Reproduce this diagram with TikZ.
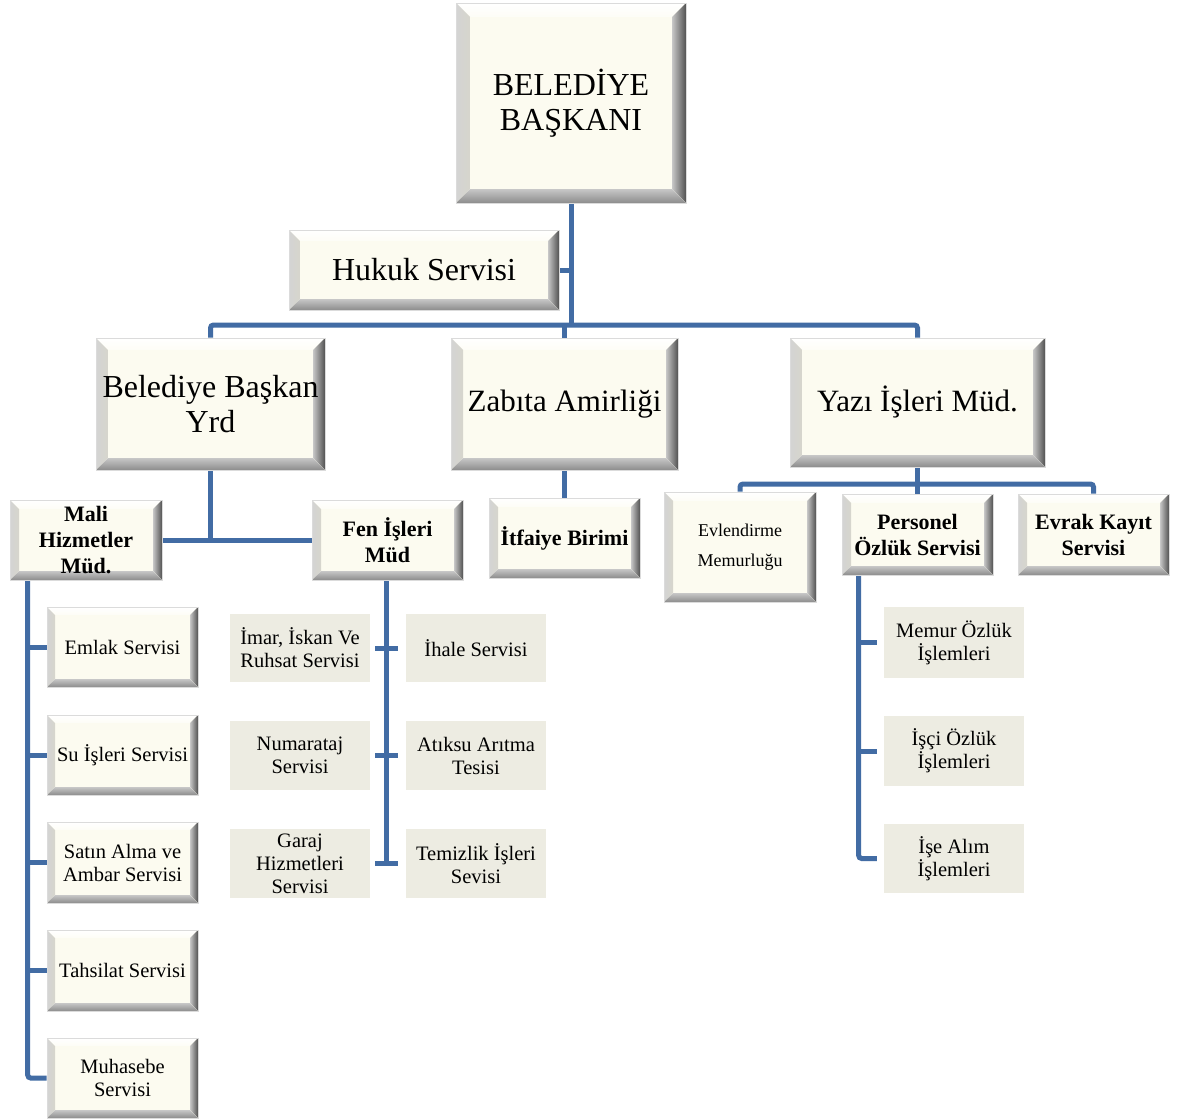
\documentclass[tikz,border=0pt]{standalone}
\usepackage{fontspec}
\setmainfont{Liberation Serif}
\usetikzlibrary{calc}
\definecolor{cream}{RGB}{252,251,240}
\definecolor{tan}{RGB}{237,236,226}
\definecolor{conn}{RGB}{66,108,164}
\pgfdeclarelayer{bg}
\pgfsetlayers{bg,main}
\newcommand\bevelpic[1]{%
\path (path picture bounding box.north west) coordinate (qnw)
      (path picture bounding box.north east) coordinate (qne)
      (path picture bounding box.south west) coordinate (qsw)
      (path picture bounding box.south east) coordinate (qse);
\fill[top color=white, bottom color=cream!60!white] (qnw) -- (qne) -- ([shift={(-#1pt,-#1pt)}]qne) -- ([shift={(#1pt,-#1pt)}]qnw) -- cycle;
\fill[left color=black!17, right color=cream!85!black] (qnw) -- ([shift={(#1pt,-#1pt)}]qnw) -- ([shift={(#1pt,#1pt)}]qsw) -- (qsw) -- cycle;
\fill[left color=black!22, right color=black!68] (qne) -- (qse) -- ([shift={(-#1pt,#1pt)}]qse) -- ([shift={(-#1pt,-#1pt)}]qne) -- cycle;
\fill[top color=black!22, bottom color=black!45] (qsw) -- (qse) -- ([shift={(-#1pt,#1pt)}]qse) -- ([shift={(#1pt,#1pt)}]qsw) -- cycle;
}
\newcommand\bx[7]{\node[#2, minimum width={(#5)-(#3)}, minimum height={(#6)-(#4)}] (#1) at ({((#3)+(#5))/2},{((#4)+(#6))/2}) {#7};}
\tikzset{
  bev/.style={draw=black!14, line width=0.6pt, fill=cream, inner sep=0pt, align=center, path picture={\bevelpic{#1}}},
  plain/.style={fill=tan, inner sep=0pt, align=center},
  fbig/.style={font=\fontsize{32}{35}\selectfont},
  fzab/.style={font=\fontsize{31}{35}\selectfont},
  fbold/.style={font=\bfseries\fontsize{22}{26}\selectfont},
  fevl/.style={font=\fontsize{18}{30}\selectfont},
  fsm/.style={font=\fontsize{20.5}{23}\selectfont},
  cline/.style={draw=conn, line width=5pt},
}
\begin{document}
\begin{tikzpicture}[x=1pt,y=-1pt]
\useasboundingbox (0,0) rectangle (1190,1119);
% level 0-2
\bx{bb}{bev=14,fbig}{456}{3}{686}{203}{BELEDİYE\\BAŞKANI}
\bx{huk}{bev=11,fbig}{289}{230}{559}{310}{Hukuk Servisi}
\bx{bby}{bev=12,fbig}{96}{338}{325}{470}{Belediye Başkan\\Yrd}
\bx{zab}{bev=12,fzab}{451}{338}{678}{470}{Zabıta Amirliği}
\bx{yaz}{bev=12,fzab}{790}{338}{1045}{467}{Yazı İşleri Müd.}
% level 3
\bx{mali}{bev=9,fbold}{10}{500}{162}{580}{Mali\\Hizmetler\\Müd.}
\bx{fen}{bev=9,fbold}{312}{500}{463}{580}{Fen İşleri\\Müd}
\bx{itf}{bev=9,fbold}{489}{498}{640}{578}{İtfaiye Birimi}
\bx{evl}{bev=9,fevl}{664}{492}{816}{602}{Evlendirme\\Memurluğu}
\bx{per}{bev=9,fbold}{842}{494}{993}{575}{Personel\\Özlük Servisi}
\bx{evr}{bev=9,fbold}{1018}{494}{1169}{575}{Evrak Kayıt\\Servisi}
% mali children
\bx{eml}{bev=8,fsm}{47}{607}{198}{687}{Emlak Servisi}
\bx{su}{bev=8,fsm}{47}{715}{198}{795}{Su İşleri Servisi}
\bx{sat}{bev=8,fsm}{47}{822}{198}{903}{Satın Alma ve\\Ambar Servisi}
\bx{tah}{bev=8,fsm}{47}{930}{198}{1011}{Tahsilat Servisi}
\bx{muh}{bev=8,fsm}{47}{1038}{198}{1118}{Muhasebe\\Servisi}
% fen children
\bx{imr}{plain,fsm}{230}{614}{370}{682}{İmar, İskan Ve\\Ruhsat Servisi}
\bx{iha}{plain,fsm}{406}{614}{546}{682}{İhale Servisi}
\bx{num}{plain,fsm}{230}{721}{370}{790}{Numarataj\\Servisi}
\bx{atk}{plain,fsm}{406}{721}{546}{790}{Atıksu Arıtma\\Tesisi}
\bx{gar}{plain,fsm}{230}{829}{370}{898}{Garaj\\Hizmetleri\\Servisi}
\bx{tem}{plain,fsm}{406}{829}{546}{898}{Temizlik İşleri\\Sevisi}
% personel children
\bx{mem}{plain,fsm}{884}{607}{1024}{678}{Memur Özlük\\İşlemleri}
\bx{isc}{plain,fsm}{884}{716}{1024}{786}{İşçi Özlük\\İşlemleri}
\bx{isa}{plain,fsm}{884}{824}{1024}{893}{İşe Alım\\İşlemleri}
% connectors
\begin{pgfonlayer}{bg}
\fill[white] (0,0) rectangle (1190,1119);
\coordinate (bus) at (0,325);
\coordinate (ybus) at (0,484);
\draw[cline] (bb.south) -- (bb.south |- bus);
\draw[cline] (huk.east) -- (bb.south |- huk.east);
\draw[cline,rounded corners=3pt] (bby.north) |- (yaz.north |- bus) -- (yaz.north);
\draw[cline] (zab.north) -- (zab.north |- bus);
\draw[cline] (bby.south) -- (bby.south |- mali.east);
\draw[cline] (mali.east) -- (fen.west);
\draw[cline] (zab.south) -- (zab.south |- itf.north);
\draw[cline] (yaz.south) -- (per.north);
\draw[cline,rounded corners=3pt] (evl.north) |- (evr.north |- ybus) -- (evr.north);
\coordinate (mtr) at ([xshift=18pt]mali.south west);
\draw[cline,rounded corners=3pt] (mtr) |- (muh.west);
\foreach \n in {eml,su,sat,tah} \draw[cline] (mtr |- \n.west) -- (\n.west);
\draw[cline] ([xshift=-1.5pt]fen.south) -- ([xshift=-1.5pt]fen.south |- gar.east);
\foreach \n in {imr,num,gar} \draw[cline] ([xshift=5pt]\n.east) -- ([xshift=28pt]\n.east);
\coordinate (ptr) at ([xshift=17pt]per.south west);
\draw[cline,rounded corners=3pt] (ptr) |- ([xshift=-7pt]isa.west);
\foreach \n in {mem,isc} \draw[cline] (ptr |- \n.west) -- ([xshift=-7pt]\n.west);
\end{pgfonlayer}
\end{tikzpicture}
\end{document}
